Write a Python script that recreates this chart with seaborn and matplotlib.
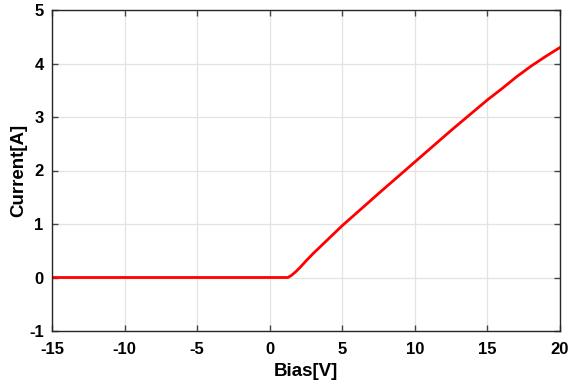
import matplotlib
matplotlib.use("Agg")
import matplotlib.pyplot as plt
import seaborn as sns
import pandas as pd

bias = [-15, 1.25, 1.5, 1.8, 2.1, 2.5, 3.0, 3.5, 4.0, 5.0, 7.5, 10.0, 12.5, 15.0, 16.0, 17.0, 18.0, 19.0, 20.0]
current = [0.0, 0.0, 0.04, 0.11, 0.19, 0.31, 0.45, 0.58, 0.71, 0.97, 1.57, 2.16, 2.75, 3.32, 3.53, 3.75, 3.95, 4.13, 4.30]
xticks = [-15, -10, -5, 0, 5, 10, 15, 20]
yticks = [-1, 0, 1, 2, 3, 4, 5]

sns.set_style("whitegrid")
plt.rcParams['font.family'] = ['Liberation Sans', 'DejaVu Sans']
plt.rcParams['font.weight'] = 'bold'

df = pd.DataFrame({"Bias": bias, "Current": current})

fig = plt.figure(figsize=(5.68, 3.87), dpi=100)
ax = fig.add_axes([52/568, 56/387, 508/568, 321/387])
sns.lineplot(data=df, x="Bias", y="Current", ax=ax, color="#ff0000", linewidth=2)

ax.set_xlim(-15, 20)
ax.set_ylim(-1, 5)
ax.set_xticks(xticks)
ax.set_yticks(yticks)
ax.set_xticklabels([str(t) for t in xticks], fontsize=12, fontweight='bold')
ax.set_yticklabels([str(t) for t in yticks], fontsize=12, fontweight='bold')
ax.set_xlabel("Bias[V]", fontsize=13.5, fontweight='bold', labelpad=4, color='black')
ax.set_ylabel("Current[A]", fontsize=13.5, fontweight='bold', labelpad=1, color='black')

ax.grid(True, color="#e3e3e3", linewidth=0.9)
ax.set_facecolor("white")
for s in ax.spines.values():
    s.set_color("#262626")
    s.set_linewidth(1.0)
    s.set_visible(True)
ax.tick_params(direction='in', length=4, width=1, color="#444444",
               top=True, right=True, bottom=True, left=True,
               labelcolor='black')
ax.tick_params(axis='x', pad=8)
ax.tick_params(axis='y', pad=6)

fig.savefig("out.png", dpi=100)
